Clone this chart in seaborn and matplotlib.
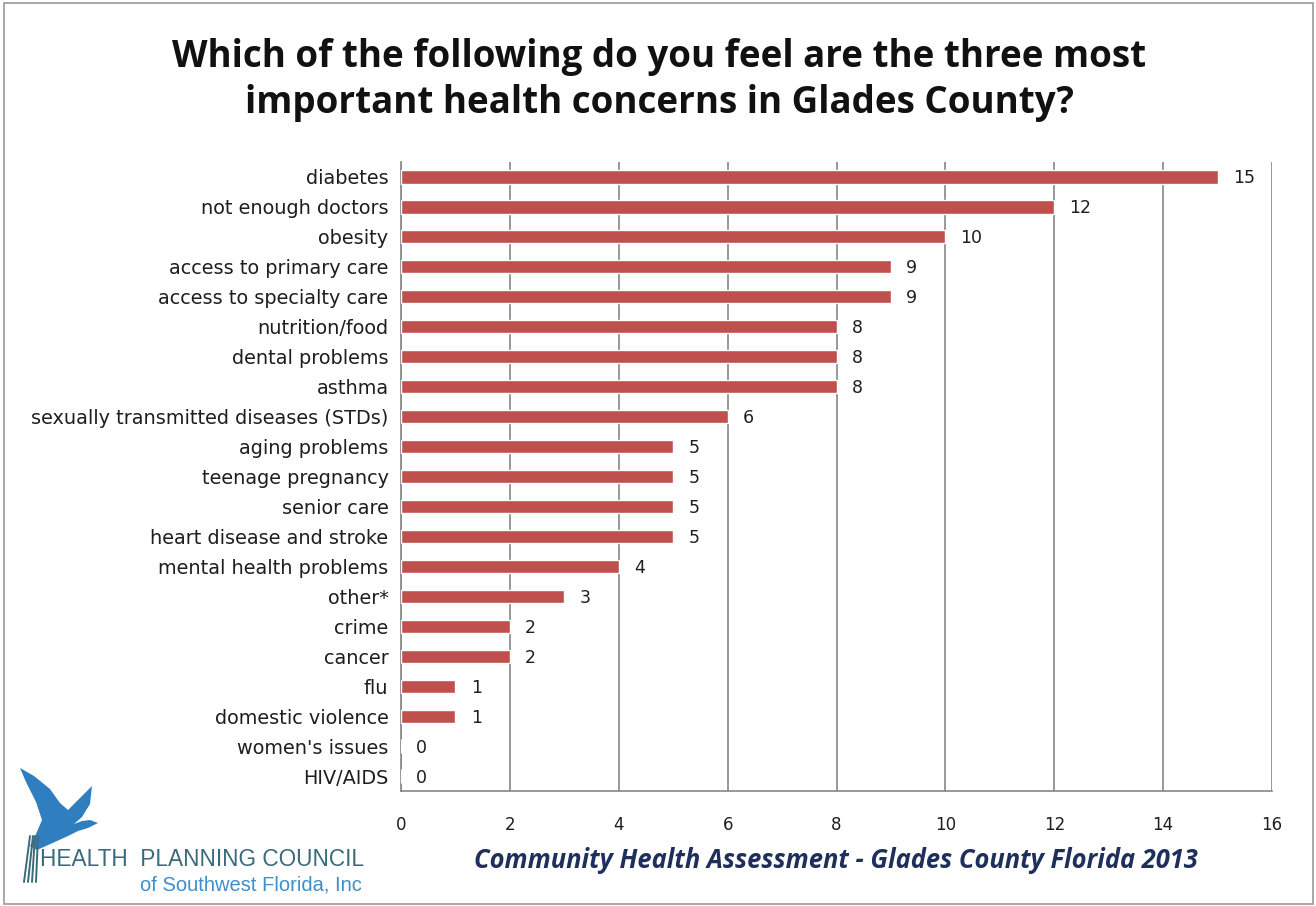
import matplotlib
matplotlib.use("Agg")
import matplotlib.pyplot as plt
import seaborn as sns
import pandas as pd
from matplotlib.patches import Rectangle, Polygon

categories = [
    "diabetes", "not enough doctors", "obesity", "access to primary care",
    "access to specialty care", "nutrition/food", "dental problems", "asthma",
    "sexually transmitted diseases (STDs)", "aging problems", "teenage pregnancy",
    "senior care", "heart disease and stroke", "mental health problems", "other*",
    "crime", "cancer", "flu", "domestic violence", "women's issues", "HIV/AIDS",
]
counts = [15, 12, 10, 9, 9, 8, 8, 8, 6, 5, 5, 5, 5, 4, 3, 2, 2, 1, 1, 0, 0]
x_ticks = [0, 2, 4, 6, 8, 10, 12, 14, 16]

title = "Which of the following do you feel are the three most\nimportant health concerns in Glades County?"
footer = "Community Health Assessment - Glades County Florida 2013"

df = pd.DataFrame({"concern": categories, "count": counts})

sns.set_theme(style="white")
plt.rcParams["font.family"] = ["DejaVu Sans"]

W, H = 1316, 906
fig = plt.figure(figsize=(W / 100, H / 100), dpi=100)
ax = fig.add_axes([401 / W, 1 - 791 / H, (1272 - 401) / W, (791 - 162) / H])

bar_color = "#C0504D"
sns.barplot(data=df, x="count", y="concern", orient="h", color=bar_color,
            width=0.44, saturation=1, ax=ax, zorder=3)

text_color = "#1E1E1E"
ax.set_xlim(0, 16)
ax.set_ylim(len(categories) - 0.5, -0.5)
ax.set_xticks(x_ticks)
ax.set_xticklabels([str(t) for t in x_ticks], fontsize=12, color=text_color)
ax.set_xlabel("")
ax.set_ylabel("")
ax.tick_params(axis="y", which="major", length=0, pad=9, labelsize=13.9,
               labelcolor=text_color)
ax.set_yticks([i - 0.5 for i in range(len(categories) + 1)], minor=True)
ax.tick_params(axis="y", which="minor", length=6, width=1.2, color="#868686", direction="out")
ax.tick_params(axis="x", which="major", length=6, width=1.2, color="#868686",
               direction="out", pad=12)

ax.grid(axis="x", color="#868686", linewidth=1.2, zorder=0)
ax.set_axisbelow(True)
for side in ["top", "right"]:
    ax.spines[side].set_visible(False)
for side in ["left", "bottom"]:
    ax.spines[side].set_color("#868686")
    ax.spines[side].set_linewidth(1.2)

# value labels beside each bar
for i, v in enumerate(counts):
    ax.text(v + 0.28, i + 0.05, str(v), va="center", ha="left", fontsize=12.5,
            color=text_color)

fig.text(0.501, 1 - 80 / H, title, ha="center", va="center", fontsize=26.5,
         fontweight="bold", family=["Open Sans", "DejaVu Sans"], linespacing=1.3,
         color="#111111")

fig.text(836 / W, 1 - 861 / H, footer, ha="center", va="center", fontsize=18.4,
         fontweight="bold", fontstyle="italic", family=["Open Sans", "DejaVu Sans"],
         color="#1F2F5C")

# organisation logo: heron silhouette, reeds and name
heron = [
    (20, 768), (34, 776), (50, 789), (60, 803), (68, 810), (80, 798), (92, 786),
    (90, 804), (82, 817), (74, 824), (82, 821), (90, 820), (98, 823), (88, 828),
    (78, 831), (68, 836), (57, 841), (46, 846), (37, 850), (30, 846), (36, 834),
    (42, 820), (36, 802), (26, 782),
]
fig.patches.append(Polygon([(x / W, 1 - y / H) for x, y in heron], closed=True,
                           transform=fig.transFigure, facecolor="#2F7FC0",
                           edgecolor="none"))
for x0, x1 in [(24, 30), (28, 33), (32, 35), (36, 38)]:
    fig.lines.append(plt.Line2D([x0 / W, x1 / W], [1 - 882 / H, 1 - 836 / H],
                                transform=fig.transFigure, color="#3A6B7A", lw=1.4))
fig.text(40 / W, 1 - 860 / H, "HEALTH  PLANNING COUNCIL", ha="left", va="center",
         fontsize=16.3, family=["Liberation Sans Narrow", "Liberation Sans"],
         color="#3A6B7A")
fig.text(362 / W, 1 - 885 / H, "of Southwest Florida, Inc", ha="right", va="center",
         fontsize=14.5, family=["Liberation Sans Narrow", "Liberation Sans"],
         color="#3F8EC9")

fig.patches.append(Rectangle((4 / W, 2 / H), 1309 / W, 901 / H,
                             transform=fig.transFigure, fill=False,
                             edgecolor="#9A9A9A", linewidth=1.2))

fig.savefig("out.png", dpi=100)
